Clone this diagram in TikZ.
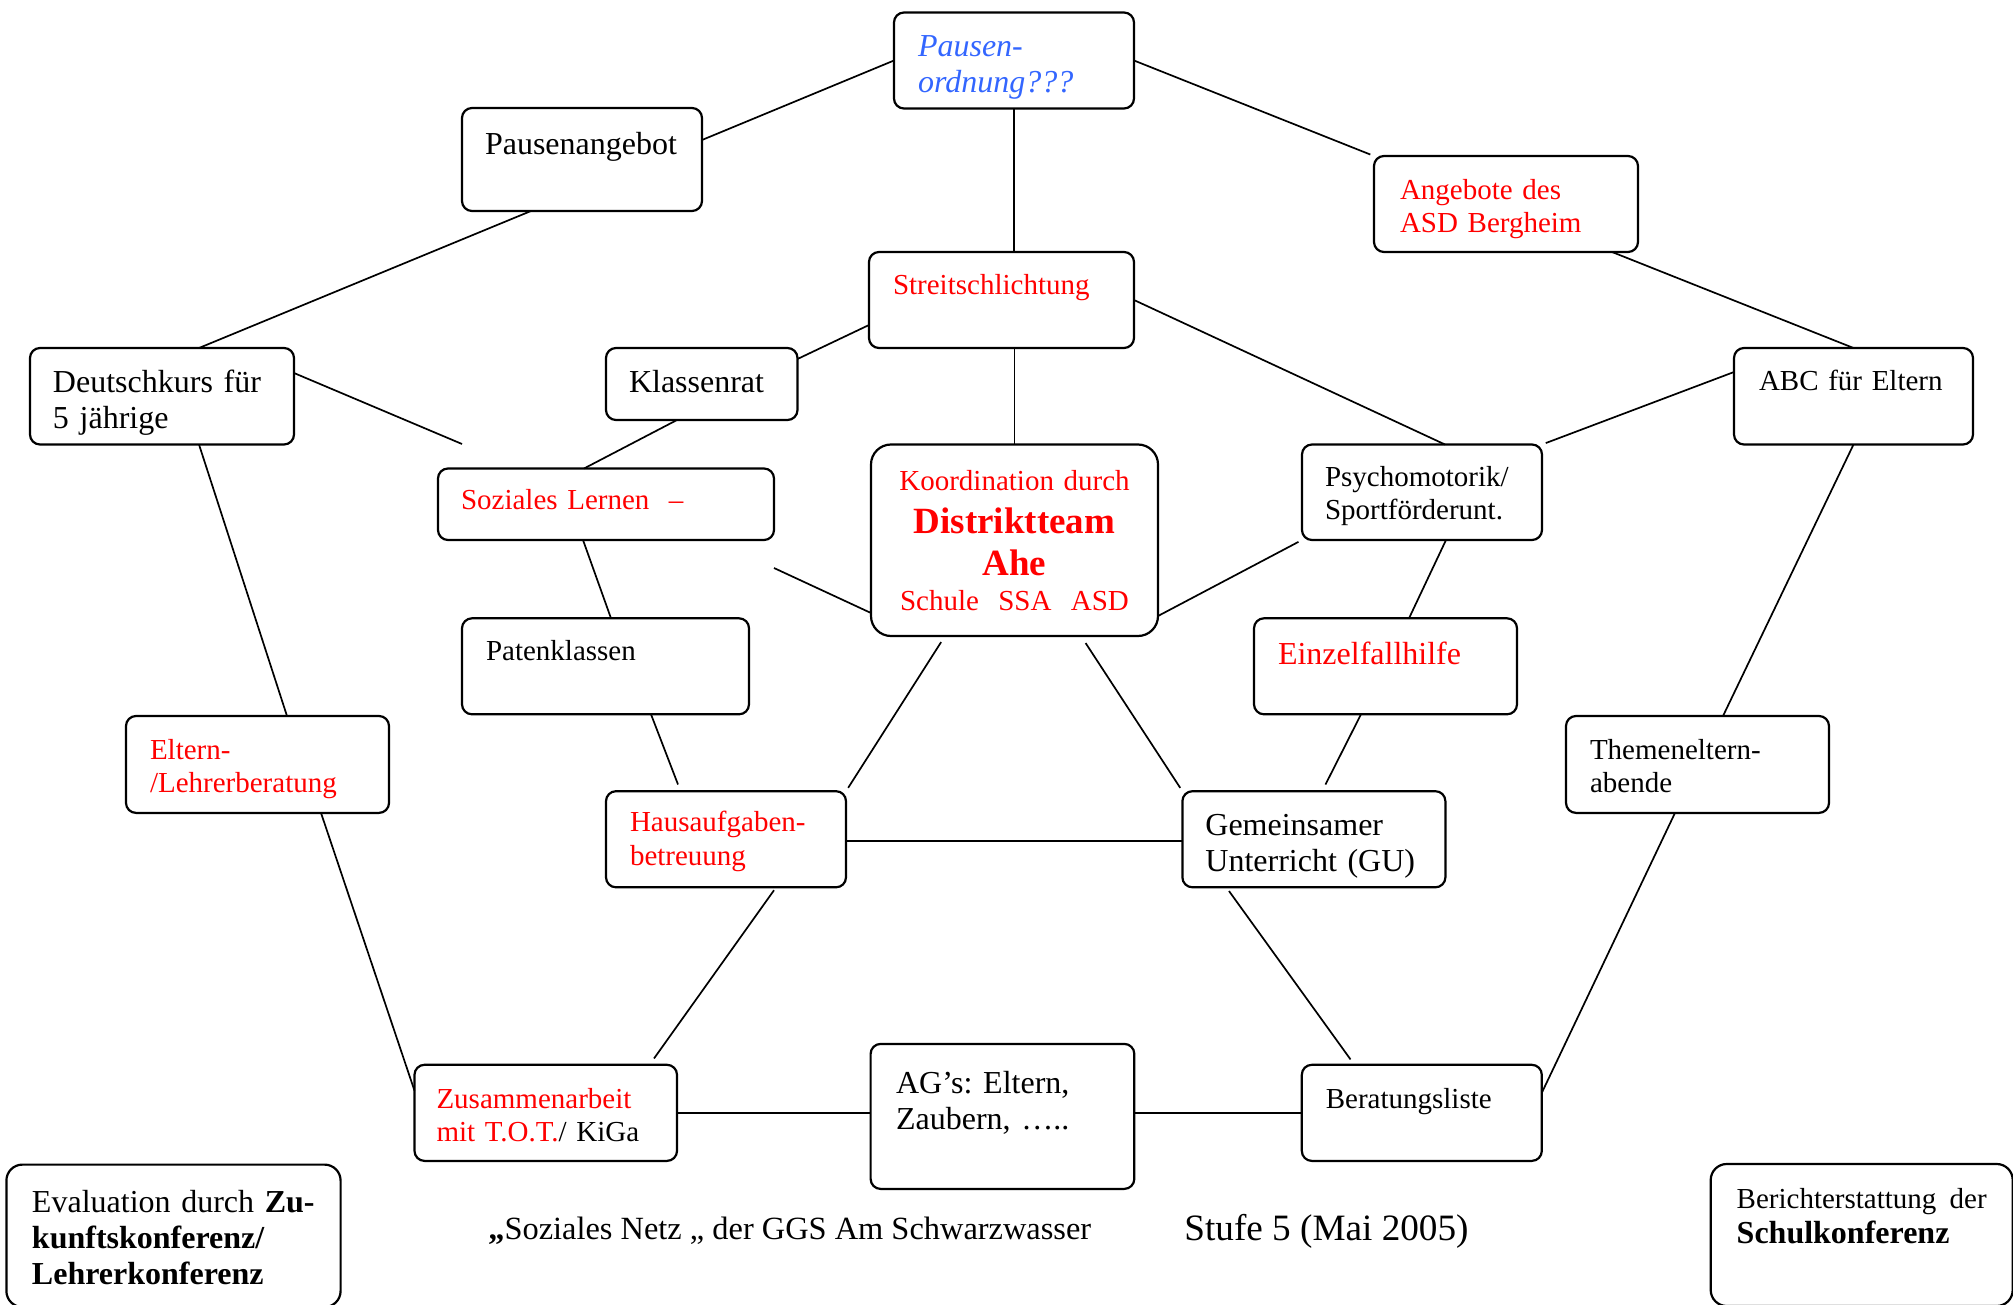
\documentclass[tikz,border=0pt]{standalone}
\usepackage{fontspec}
\setmainfont{Liberation Serif}
\definecolor{pausenBlue}{RGB}{51,102,255}
\newcommand{\bigText}{\fontsize{16}{18}\selectfont}
\newcommand{\smallText}{\fontsize{14.5}{16.7}\selectfont}
\newcommand{\distText}{\fontsize{18.5}{21.3}\selectfont\bfseries}
\newcommand{\stufeText}{\fontsize{18.6}{22}\selectfont}
\tikzset{%
  % Specifications for style of nodes:
    base/.style = {rectangle, rounded corners=5pt, draw=black, line width=1.1pt, anchor=north west,
                   inner ysep=0pt, outer sep=0pt, align=left},
    bigBox/.style = {base, font=\bigText},
    smallBox/.style = {base, font=\smallText},
    redBox/.style = {smallBox, text=red},
    cornerBox/.style = {bigBox, rounded corners=8pt},
    boxDims/.style n args = {4}{text width=#1, inner xsep=#2, text height=#3, text depth=#4},
    caption/.style = {anchor=base west, inner sep=0pt, font=\fontsize{16.2}{18}\selectfont},
    connector/.style = {line width=0.85pt},
}

\begin{document}
\frenchspacing
\begin{tikzpicture}[x=0.5pt, y=-0.5pt]
  \useasboundingbox (0,0) rectangle (2013,1305);
  \clip (0,0) rectangle (2013,1305);

  \node (pausenordnung)  [bigBox, boxDims={96pt}{12pt}{22pt}{26pt}, text=pausenBlue,
                          font=\bigText\itshape] at (894,12.5) {Pausen-\\ordnung???};
  \node (pausenangebot)  [bigBox, boxDims={97pt}{11.5pt}{23.1pt}{28.4pt}] at (462,108)
                                                                {Pausenangebot};
  \node (angebote)       [redBox, boxDims={106pt}{13pt}{21.6pt}{26.4pt}] at (1374,156)
                                                                {Angebote des\\ASD Bergheim};
  \node (streit)         [redBox, boxDims={108.5pt}{12pt}{21.1pt}{26.9pt}] at (869,252)
                                                                {Streitschlichtung};
  \node (deutschkurs)    [bigBox, boxDims={109pt}{11.5pt}{22.25pt}{26pt}] at (30,348)
                                                                {Deutschkurs für\\5 jährige};
  \node (klassenrat)     [bigBox, boxDims={72.75pt}{11.5pt}{22.25pt}{13.75pt}] at (606,348)
                                                                {Klassenrat};
  \node (abc)            [smallBox, boxDims={94.5pt}{12.5pt}{21.35pt}{26.9pt}] at (1734,348)
                                                                {ABC für Eltern};
  \node (soziales)       [redBox, boxDims={145pt}{11.5pt}{20.35pt}{15.4pt}] at (438,468.5)
                                                                {Soziales Lernen~~–};
  \node (koord)          [redBox, boxDims={127.5pt}{8pt}{23pt}{72.75pt}, rounded corners=10pt,
                          align=center] at (871,444.5)
   {Koordination durch\\ \distText Distriktteam\\ Ahe\\[0.5pt] \smallText\mdseries Schule~~SSA~~ASD};
  \node (psycho)         [smallBox, boxDims={97pt}{11.5pt}{21pt}{26.75pt}] at (1302,444.5)
                                                                {Psychomotorik/\\Sportförderunt.};
  \node (paten)          [smallBox, boxDims={119.5pt}{12pt}{21pt}{27pt}] at (462,618.3)
                                                                {Patenklassen};
  \node (einzel)         [redBox, boxDims={107.5pt}{12pt}{23.1pt}{24.9pt}, font=\bigText] at (1254,618.3)
                                                                {Einzelfallhilfe};
  \node (eltern)         [redBox, boxDims={107.5pt}{12pt}{21.5pt}{26.95pt}] at (126,716)
                                                                {Eltern-\\/Lehrerberatung};
  \node (themen)         [smallBox, boxDims={107.5pt}{12pt}{21.5pt}{26.95pt}] at (1566,716)
                                                                {Themeneltern-\\abende};
  \node (haus)           [redBox, boxDims={96pt}{12pt}{20.35pt}{27.7pt}] at (606,791.2)
                                                                {Hausaufgaben-\\betreuung};
  \node (gemein)         [bigBox, boxDims={108.5pt}{11.5pt}{21.9pt}{26.15pt}] at (1182.4,791.2)
                                                                {Gemeinsamer\\Unterricht (GU)};
  \node (zusammenarbeit) [redBox, boxDims={109.25pt}{11pt}{21.6pt}{26.45pt}] at (414.5,1064.8)
                                                                {Zusammenarbeit\\mit T.O.T.{\color{black}/ KiGa}};
  \node (ags)            [bigBox, boxDims={106.35pt}{12.75pt}{25pt}{47.5pt}] at (870.6,1043.9)
                                                                {AG’s: Eltern,\\Zaubern, …..};
  \node (beratung)       [smallBox, boxDims={96pt}{12pt}{21.6pt}{26.45pt}] at (1301.8,1064.8)
                                                                {Beratungsliste};
  \node (evaluation)     [cornerBox, boxDims={141.5pt}{12.8pt}{23.9pt}{47.3pt}] at (6.4,1164.6)
   {Evaluation durch \textbf{Zu-}\\\textbf{kunftskonferenz/}\\\textbf{Lehrerkonferenz}};
  \node (bericht)        [cornerBox, font=\smallText, boxDims={125pt}{13pt}{22.25pt}{48.75pt}] at (1710.7,1164)
   {Berichterstattung\hfill der\\[0.8pt]{\bigText\bfseries Schulkonferenz}};

  \node (netzTitle)  [caption] at (488,1239.6) {\textbf{„}Soziales Netz „ der GGS Am Schwarzwasser};
  \node (stufeTitle) [caption, font=\stufeText] at (1184,1240) {Stufe 5 (Mai 2005)};

  \coordinate (auxNode1) at (462,444);
  \coordinate (auxNode2) at (774,568);

  % Specification of lines between nodes
  \draw[connector]  (pausenangebot.east |- 0,140) -- (pausenordnung.west);
  \draw[connector]  (pausenangebot.south -| 531,0) -- (deutschkurs.north -| 199,0);
  \draw[connector]  (deutschkurs.east |- 0,373) -- (auxNode1);
  \draw[connector]  (deutschkurs.south -| 199,0) -- (eltern.north -| 287,0);
  \draw[connector]  (eltern.south -| 321,0) -- (zusammenarbeit.west |- 0,1090.7);
  \draw[connector]  (klassenrat.east |- 0,359) -- (streit.west |- 0,325);
  \draw[connector]  (klassenrat.south -| 677,0) -- (soziales.north -| 584,0);
  \draw[connector]  (soziales.south -| 583,0) -- (paten.north -| 611,0);
  \draw[connector]  (auxNode2) -- (koord.west |- 0,613);
  \draw[connector]  (pausenordnung.south) -- (pausenordnung.south |- streit.north);
  \draw[connector]  (koord.north |- streit.south) -- (koord.north);
  \draw[connector, shorten >=2pt]  (pausenordnung.east) -- (angebote.north west);
  \draw[connector]  (angebote.south -| 1612,0) -- (abc.north);
  \draw[connector]  (streit.east) -- (psycho.north -| 1445,0);
  \draw[connector, shorten >=2pt]  (abc.west |- 0,372) -- (psycho.north east);
  \draw[connector, shorten <=2pt]  (psycho.south west) -- (koord.east |- 0,616);
  \draw[connector]  (psycho.south -| 1446,0) -- (einzel.north -| 1409,0);
  \draw[connector]  (abc.south) -- (themen.north -| 1723,0);
  \draw[connector, shorten <=3.6pt, shorten >=2pt]  (koord.south -| 945,0) -- (haus.north east);
  \draw[connector, shorten <=4.2pt, shorten >=2pt]  (koord.south -| 1081,0) -- (gemein.north west);
  \draw[connector, shorten >=3.6pt]  (paten.south -| 651,0) -- (haus.north -| 680.6,0);
  \draw[connector, shorten >=3.75pt]  (einzel.south -| 1361,0) -- (gemein.north -| 1322.1,0);
  \draw[connector]  (haus.east |- 0,841) -- (gemein.west |- 0,841);
  \draw[connector, shorten <=1.8pt, shorten >=3.9pt]  (haus.south -| 776.1,0) -- (zusammenarbeit.north -| 649.5,0);
  \draw[connector, shorten <=2.3pt, shorten >=3.3pt]  (gemein.south -| 1226.3,0) -- (beratung.north -| 1354.4,0);
  \draw[connector]  (themen.south -| 1675,0) -- (beratung.east |- 0,1092.8);
  \draw[connector]  (zusammenarbeit.east) -- (zusammenarbeit.east -| ags.west);
  \draw[connector]  (ags.east |- beratung.west) -- (beratung.west);
\end{tikzpicture}
\end{document}
